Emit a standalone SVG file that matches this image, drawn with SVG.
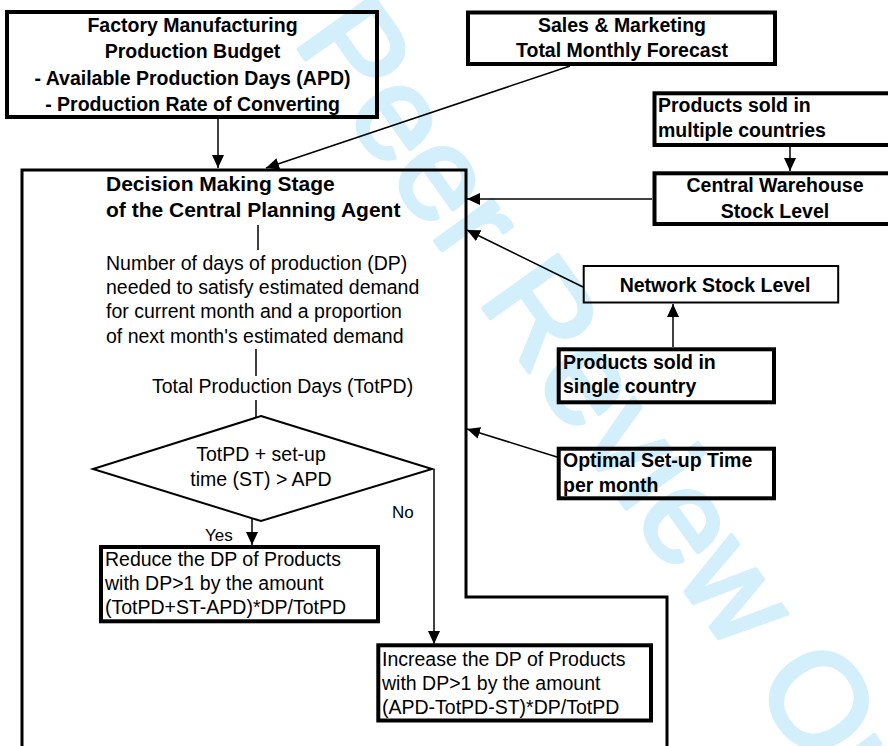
<svg xmlns="http://www.w3.org/2000/svg" width="888" height="746" viewBox="0 0 888 746">
<style>
text{font-family:"Liberation Sans",Arial,sans-serif;fill:#000}
.b{font-weight:bold;font-size:19.5px}
.r{font-size:19.5px}
.s{font-size:17px}
.c{text-anchor:middle}
.box{fill:none;stroke:#000;stroke-width:4}
.thin{fill:none;stroke:#000;stroke-width:2}
.ln{fill:none;stroke:#000;stroke-width:1.5}
.wm{font-size:133px;fill:#d3effc;stroke:#d3effc;stroke-width:4;stroke-linejoin:round}
</style>
<defs>
<marker id="ah" markerUnits="userSpaceOnUse" markerWidth="13" markerHeight="12" refX="13" refY="6" orient="auto">
<path d="M0,0 L13,6 L0,12 z" fill="#000"/>
</marker>
</defs>
<rect width="888" height="746" fill="#fff"/>
<text class="wm" transform="translate(155,-152) rotate(54.5)">For Peer Review Only</text>

<g id="frame"><path d="M22,746 V170 H466 V597 H667 V746" fill="none" stroke="#000" stroke-width="3"/></g>

<g id="factory">
<rect class="box" x="7" y="12" width="370" height="105"/>
<text class="b c" x="192.5" y="31.5">Factory Manufacturing</text>
<text class="b c" x="192.5" y="57.5">Production Budget</text>
<text class="b c" x="192.5" y="84.5">- Available Production Days (APD)</text>
<text class="b c" x="192.5" y="110.5">- Production Rate of Converting</text>
</g>

<g id="sales">
<rect class="box" x="468" y="12.5" width="307" height="51.5"/>
<text class="b c" x="622" y="31.5">Sales &amp; Marketing</text>
<text class="b c" x="622" y="57">Total Monthly Forecast</text>
</g>

<g id="multiple">
<rect class="box" x="654.5" y="93.3" width="250" height="51.7"/>
<text class="b" x="658" y="111.5">Products sold in</text>
<text class="b" x="658" y="137">multiple countries</text>
</g>

<g id="central">
<rect class="box" x="654.5" y="173.3" width="242" height="50.7"/>
<text class="b c" x="775" y="192">Central Warehouse</text>
<text class="b c" x="775" y="218">Stock Level</text>
</g>

<g id="network">
<rect class="thin" x="583.7" y="266" width="254.5" height="36.5"/>
<text class="b c" x="715" y="292">Network Stock Level</text>
</g>

<g id="single">
<rect class="box" x="558.7" y="349.3" width="215.3" height="53"/>
<text class="b" x="563" y="368.5">Products sold in</text>
<text class="b" x="563" y="393.3">single country</text>
</g>

<g id="optimal">
<rect class="box" x="558.7" y="448.7" width="215.3" height="49.6"/>
<text class="b" x="563" y="467.3">Optimal Set-up Time</text>
<text class="b" x="563" y="492">per month</text>
</g>

<g id="decision">
<text class="b" style="font-size:21px" x="106" y="190.7">Decision Making Stage</text>
<text class="b" style="font-size:21px" x="106" y="216.7">of the Central Planning Agent</text>
</g>

<g id="dp">
<text class="r" x="106" y="269.5">Number of days of production (DP)</text>
<text class="r" x="106" y="293.5">needed to satisfy estimated demand</text>
<text class="r" x="106" y="318">for current month and a proportion</text>
<text class="r" x="106" y="342.5">of next month's estimated demand</text>
</g>

<g id="totpd">
<text class="r" x="152" y="393">Total Production Days (TotPD)</text>
</g>

<g id="diamond">
<path class="thin" d="M261,416 L432,469 L261,521 L93,469 z"/>
<text class="r c" x="261" y="461">TotPD + set-up</text>
<text class="r c" x="261" y="486">time (ST) &gt; APD</text>
</g>

<g id="reduce">
<rect class="box" x="101" y="547" width="277" height="74.3"/>
<text class="r" x="105" y="566">Reduce the DP of Products</text>
<text class="r" x="105" y="590">with DP&gt;1 by the amount</text>
<text class="r" x="105" y="614">(TotPD+ST-APD)*DP/TotPD</text>
</g>

<g id="increase">
<rect class="box" x="378.3" y="645.3" width="272.7" height="75.2"/>
<text class="r" x="382" y="666">Increase the DP of Products</text>
<text class="r" x="382" y="690">with DP&gt;1 by the amount</text>
<text class="r" x="382" y="713.5">(APD-TotPD-ST)*DP/TotPD</text>
</g>

<g id="connectors">
<line class="ln" x1="218" y1="119" x2="218" y2="168" marker-end="url(#ah)"/>
<line class="ln" x1="570" y1="66" x2="266" y2="168" marker-end="url(#ah)"/>
<line class="ln" x1="790" y1="147" x2="790" y2="171" marker-end="url(#ah)"/>
<line class="ln" x1="652" y1="199" x2="467" y2="199" marker-end="url(#ah)"/>
<line class="ln" x1="583" y1="287" x2="467" y2="230" marker-end="url(#ah)"/>
<line class="ln" x1="673" y1="347" x2="673" y2="304" marker-end="url(#ah)"/>
<line class="ln" x1="557" y1="457" x2="467" y2="429" marker-end="url(#ah)"/>
<line class="ln" x1="258" y1="225" x2="258" y2="250"/>
<line class="ln" x1="256" y1="349" x2="256" y2="376"/>
<line class="ln" x1="256" y1="400" x2="256" y2="417"/>
<line class="ln" x1="252" y1="518" x2="252" y2="545" marker-end="url(#ah)"/>
<line class="ln" x1="434" y1="469" x2="434" y2="644" marker-end="url(#ah)"/>
<text class="s" x="205" y="541">Yes</text>
<text class="s" x="392" y="518">No</text>
</g>
</svg>
